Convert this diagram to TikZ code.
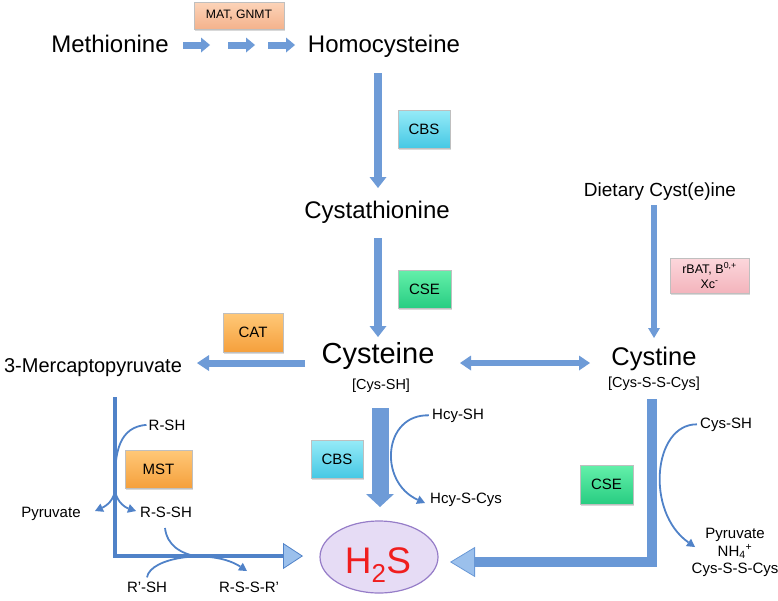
\documentclass[tikz,border=0pt]{standalone}
\usepackage{fontspec}
\setmainfont{Liberation Sans}
\usetikzlibrary{arrows.meta,shapes.geometric,shadows}
\definecolor{ablue}{RGB}{110,155,215}
\definecolor{dblue}{RGB}{80,130,200}
\definecolor{mblue}{RGB}{105,152,214}
\definecolor{lblue}{RGB}{155,192,236}
\definecolor{cbsTop}{RGB}{150,235,248}
\definecolor{cbsBot}{RGB}{70,200,228}
\definecolor{cseTop}{RGB}{100,240,170}
\definecolor{cseBot}{RGB}{40,205,130}
\definecolor{orTop}{RGB}{255,200,120}
\definecolor{orBot}{RGB}{245,160,60}
\definecolor{matTop}{RGB}{252,212,185}
\definecolor{matBot}{RGB}{244,178,140}
\definecolor{rbTop}{RGB}{252,215,220}
\definecolor{rbBot}{RGB}{243,180,188}
\definecolor{ellF}{RGB}{230,220,245}
\definecolor{ellD}{RGB}{150,125,200}
\definecolor{hred}{RGB}{240,30,30}
\begin{document}
\begin{tikzpicture}[x=1pt,y=-1pt,
  lblbig/.style={inner sep=0pt, anchor=base, font=\fontsize{24}{28}\selectfont},
  lblsmall/.style={inner sep=0pt, anchor=base, font=\fontsize{15}{17}\selectfont},
  enzbox/.style={rectangle, inner sep=0pt, align=center, draw=black!25, line width=0.3pt,
     drop shadow={shadow xshift=1.2pt, shadow yshift=-1.5pt, opacity=0.3},
     font=\fontsize{15}{17}\selectfont},
  cbsbox/.style={enzbox, top color=cbsTop, bottom color=cbsBot},
  csebox/.style={enzbox, top color=cseTop, bottom color=cseBot},
  orbox/.style={enzbox, top color=orTop, bottom color=orBot},
  blkarrow/.style={ablue, line width=#1},
  thinarr/.style={dblue, line width=1.8pt, -{Triangle[width=9pt,length=8pt,line width=0pt]}},
  thincurve/.style={dblue, line width=1.8pt}
]
\useasboundingbox (0,0) rectangle (778,600);

% ---- texts
\node[lblbig] (meth) at (110,52) {Methionine};
\node[lblbig] (homo) at (384,52) {Homocysteine};
\node[lblbig] (cysta) at (377,218) {Cystathionine};
\node[lblbig, font=\fontsize{29}{33}\selectfont] (cys) at (378,363) {Cysteine};
\node[lblsmall, font=\fontsize{14.5}{17}\selectfont] (cyssh) at (381,389) {[Cys-SH]};
\node[lblbig, font=\fontsize{25.5}{30}\selectfont] (cystine) at (654,365) {Cystine};
\node[lblsmall, font=\fontsize{14.5}{17}\selectfont] (cysscys) at (654,387) {[Cys-S-S-Cys]};
\node[lblbig, font=\fontsize{20}{24}\selectfont] (mp) at (93,372) {3-Mercaptopyruvate};
\node[lblbig, font=\fontsize{19}{23}\selectfont] (diet) at (660,196) {Dietary Cyst(e)ine};

\node[lblsmall] (rsh) at (167,430) {R-SH};
\node[lblsmall] (pyrL) at (51,517) {Pyruvate};
\node[lblsmall] (rssh) at (166,517) {R-S-SH};
\node[lblsmall] (rpsh) at (147,592) {R’-SH};
\node[lblsmall] (rssr) at (249,592) {R-S-S-R’};
\node[lblsmall] (hcysh) at (458,419) {Hcy-SH};
\node[lblsmall] (hcyscys) at (466,503) {Hcy-S-Cys};
\node[lblsmall] (cysshR) at (726,428) {Cys-SH};
\node[lblsmall] (p1) at (735,538) {Pyruvate};
\node[lblsmall] (p2) at (735,556) {NH\textsubscript{4}\textsuperscript{+}};
\node[lblsmall] (p3) at (735,573) {Cys-S-S-Cys};

% ---- enzyme boxes
\node[enzbox, top color=matTop, bottom color=matBot, minimum width=90, minimum height=27,
      font=\fontsize{12.2}{14}\selectfont] (mat) at (239,15.5) {MAT, GNMT};
\node[cbsbox, minimum width=52, minimum height=38] (cbs1) at (424,129) {CBS};
\node[csebox, minimum width=53, minimum height=38] (cse1) at (424.5,289) {CSE};
\node[orbox, minimum width=60, minimum height=39] (cat) at (253,332.5) {CAT};
\node[enzbox, top color=rbTop, bottom color=rbBot, minimum width=79, minimum height=35,
      font=\fontsize{12.5}{15}\selectfont] (rbat) at (709.5,275.5) {rBAT, B\textsuperscript{0,+}\\Xc\textsuperscript{-}};
\node[orbox, minimum width=67, minimum height=38] (mst) at (158.5,469) {MST};
\node[cbsbox, minimum width=52, minimum height=38] (cbs2) at (337,459) {CBS};
\node[csebox, minimum width=53, minimum height=39] (cse2) at (606.5,484.5) {CSE};

% ---- H2S
\node[ellipse, fill=ellF, draw=ellD, line width=1.2pt, minimum width=118, minimum height=72] (h2s) at (379,557) {};
\node[inner sep=0pt, anchor=base, text=hred, font=\fontsize{37}{40}\selectfont] (h2stext) at (378,573) {H\textsubscript{2}S};

% ---- coordinates for arrow ends
\coordinate (t1s) at (183,45); \coordinate (t1e) at (210,45);
\coordinate (t2s) at (228,45); \coordinate (t2e) at (255,45);
\coordinate (t3s) at (268,45); \coordinate (t3e) at (295,45);
\coordinate (a1s) at (378,73); \coordinate (a1e) at (378,188);
\coordinate (a2s) at (378,238); \coordinate (a2e) at (378,337);
\coordinate (c1s) at (305,363); \coordinate (c1e) at (197,363);
\coordinate (d1) at (460,363); \coordinate (d2) at (590,363);
\coordinate (ds) at (654,205); \coordinate (de) at (654,338);
\coordinate (ts) at (380,408); \coordinate (te) at (380,507);
\coordinate (ltop) at (115,397); \coordinate (ltip) at (303,556);
\coordinate (rtop) at (652,399); \coordinate (rtip) at (450,562);

% ---- block arrows
\foreach \s/\e in {t1s/t1e,t2s/t2e,t3s/t3e}
  \draw[blkarrow=7pt, -{Triangle[width=15pt,length=9pt,line width=0pt]}] (\s) -- (\e);
\draw[blkarrow=8pt, -{Triangle[width=17pt,length=11pt,line width=0pt]}] (a1s) -- (a1e);
\draw[blkarrow=8pt, -{Triangle[width=17pt,length=11pt,line width=0pt]}] (a2s) -- (a2e);
\draw[blkarrow=7pt, -{Triangle[width=16pt,length=12pt,line width=0pt]}] (c1s) -- (c1e);
\draw[blkarrow=6pt, {Triangle[width=15pt,length=11pt,line width=0pt]}-{Triangle[width=15pt,length=11pt,line width=0pt]}] (d1) -- (d2);
\draw[blkarrow=6pt, -{Triangle[width=12pt,length=10pt,line width=0pt]}] (ds) -- (de);
\draw[blkarrow=17pt, -{Triangle[width=28pt,length=13pt,line width=0pt]}] (ts) -- (te);

% ---- L-shaped arrows into H2S
\draw[dblue, line width=4.5pt, line join=miter,
      -{Triangle[width=26pt,length=20pt,line width=0.8pt,fill=lblue]}] (ltop) |- (ltip);
\draw[mblue, line width=10.5pt, line join=miter,
      -{Triangle[width=30pt,length=25pt,line width=0.8pt,fill=lblue]}] (rtop) |- (rtip);

% ---- thin curved arrows
\coordinate (br) at (115,488);
\coordinate (pyrtip) at (95,511);
\coordinate (rsstip) at (136,511);
\draw[thincurve] ([xshift=-2pt]rsh.west) .. controls (120,427) and (114,450) .. (br);
\draw[thinarr] (br) .. controls (115,500) and (106,506) .. (pyrtip);
\draw[thinarr] (br) .. controls (115,500) and (124,507) .. (rsstip);

\coordinate (mrg) at (200,557);
\coordinate (rsstip2) at (247,571);
\draw[thincurve] (165,528) .. controls (167,545) and (180,554) .. (mrg);
\draw[thinarr] ([yshift=4pt]rpsh.north) .. controls (150,557) and (212,548) .. (rsstip2);

\coordinate (hcytip) at (425,503);
\draw[thinarr] ([xshift=-3pt]hcysh.west) .. controls (383,414) and (378,482) .. (hcytip);

\coordinate (cystip) at (695,547);
\draw[thinarr] ([xshift=-3pt]cysshR.west) .. controls (653,424) and (645,512) .. (cystip);
\end{tikzpicture}
\end{document}
